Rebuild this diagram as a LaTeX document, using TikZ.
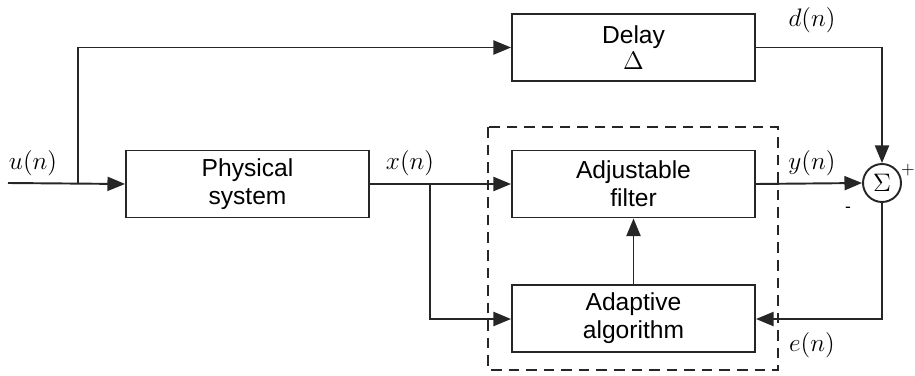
\documentclass[tikz,border=0pt]{standalone}
\usepackage{fontspec}
\setsansfont{Liberation Sans}
\usetikzlibrary{arrows.meta}
\begin{document}
\begin{tikzpicture}[x=0.02cm,y=-0.02cm,
  line width=1.1pt, draw=black!85,
  blk/.style={draw, rectangle, minimum width=243*0.02cm, minimum height=67*0.02cm, align=center,
    font=\sffamily\fontsize{14}{16}\selectfont, inner sep=0pt},
  lbl/.style={font=\fontsize{14}{16}\selectfont, inner sep=0pt},
  arr/.style={-{Triangle[length=10pt,width=8pt]}}]
\useasboundingbox (0,0) rectangle (915,375);
% blocks
\node[blk] (delay) at (633.5,47.5) {Delay\\[-1pt]$\Delta$};
\node[blk] (phys) at (247.5,184) {Physical\\system};
\node[blk] (filt) at (633.5,184) {Adjustable\\filter};
\node[blk] (adapt) at (633.5,318.5) {Adaptive\\algorithm};
\node[draw, circle, minimum size=38*0.02cm, inner sep=0pt, font=\fontsize{15}{16}\selectfont] (sum) at (882,183) {$\Sigma$};
\draw[dashed, dash pattern=on 6pt off 4pt] (488,127) rectangle (778,370);
% coordinates
\coordinate (in) at (8,183);
\coordinate (ju) at (78,183);
\coordinate (jx) at (430,183);
\coordinate (tl) at (78,47.5);
\coordinate (tr) at (882,47.5);
\coordinate (eb) at (882,319);
\coordinate (xb) at (430,319);
% connectors
\draw[arr] (in) -- (phys.west);
\draw[arr] (ju) -- (tl) -- (delay.west);
\draw[arr] (delay.east) -- (tr) -- (sum.north);
\draw[arr] (phys.east) -- (filt.west);
\draw[arr] (jx) -- (xb) -- (adapt.west |- xb);
\draw[arr] (adapt.north) -- (filt.south);
\draw[arr] (filt.east) -- (sum.west);
\draw[arr] (sum.south) -- (eb) -- (adapt.east |- eb);
% labels
\node[lbl] (un) at (33,163) {$u(n)$};
\node[lbl] (xn) at (410,163) {$x(n)$};
\node[lbl] (dn) at (812,20) {$d(n)$};
\node[lbl] (yn) at (812,163) {$y(n)$};
\node[lbl] (en) at (812,345) {$e(n)$};
\node[lbl, font=\sffamily\fontsize{10}{12}\selectfont] (minus) at (848,210) {-};
\node[lbl, font=\fontsize{10}{12}\selectfont] (plus) at (908,170) {$+$};
\end{tikzpicture}
\end{document}
